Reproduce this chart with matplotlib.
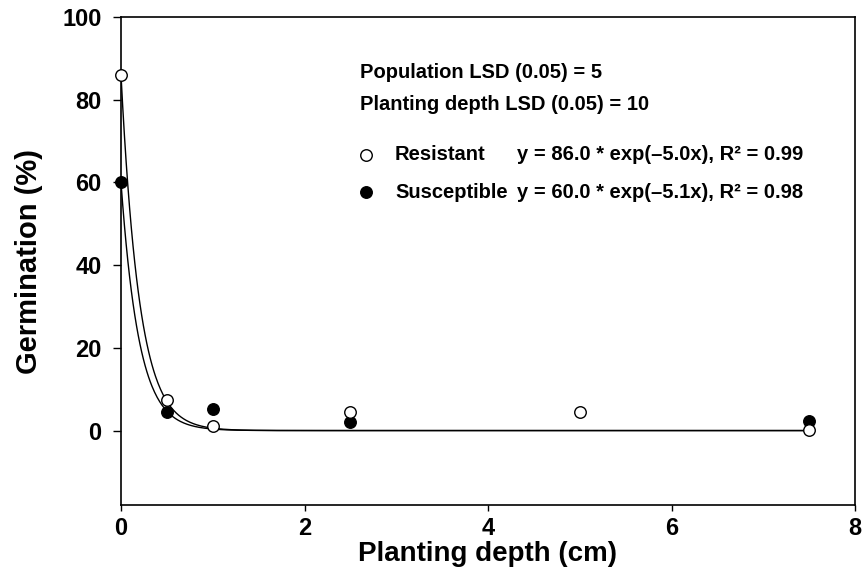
import numpy as np
import matplotlib
matplotlib.use("Agg")
import matplotlib.pyplot as plt

plt.rcParams['font.family'] = ['Liberation Sans', 'DejaVu Sans']
plt.rcParams['font.weight'] = 'bold'

# Data
res_x = [0, 0.5, 1, 2.5, 5, 7.5]
res_y = [86.0, 7.3, 1.2, 4.4, 4.4, 0.2]
sus_x = [0, 0.5, 1, 2.5, 7.5]
sus_y = [60.0, 4.4, 5.3, 2.0, 2.3]
# fitted model parameters y = a * exp(b x)
res_fit = (86.0, -5.0)
sus_fit = (60.0, -5.1)

xticks = [0, 2, 4, 6, 8]
yticks = [0, 20, 40, 60, 80, 100]

W, H = 867, 575
fig = plt.figure(figsize=(W/100, H/100), dpi=100)
ax = fig.add_axes([121/W, 1 - 505/H, (855-121)/W, (505-17)/H])

xs = np.linspace(0, 7.5, 800)
ax.plot(xs, res_fit[0]*np.exp(res_fit[1]*xs), color='black', lw=1.0, zorder=2)
ax.plot(xs, sus_fit[0]*np.exp(sus_fit[1]*xs), color='black', lw=1.0, zorder=2)

ms = 8.3
ax.plot(sus_x, sus_y, 'o', ms=ms, mfc='black', mec='black', mew=1.0, zorder=3, clip_on=False)
ax.plot(res_x, res_y, 'o', ms=ms, mfc='white', mec='black', mew=1.0, zorder=4, clip_on=False)

ax.set_xlim(0, 8)
ax.set_ylim(-18, 100)
ax.set_xticks(xticks)
ax.set_yticks(yticks)
ax.tick_params(direction='out', width=1.0, labelsize=17)
ax.tick_params(axis='y', length=6, pad=8)
ax.tick_params(axis='x', length=4.5, pad=4)
for s in ax.spines.values():
    s.set_linewidth(1.2)
for lbl in ax.get_xticklabels() + ax.get_yticklabels():
    lbl.set_fontweight('bold')

ax.set_xlabel('Planting depth (cm)', fontsize=20, fontweight='bold', labelpad=1)
ax.set_ylabel('Germination (%)', fontsize=21, fontweight='bold', labelpad=14)

def px(x, y):
    return fig.transFigure.inverted().transform((x, H - y))

tfs = 14.5
x0, y0 = px(360, 73)
fig.text(x0, y0, 'Population LSD (0.05) = 5', fontsize=tfs, fontweight='bold', va='center')
x0, y0 = px(360, 104)
fig.text(x0, y0, 'Planting depth LSD (0.05) = 10', fontsize=tfs, fontweight='bold', va='center')

for (yy, fc, name, eq) in [(155, 'white', 'Resistant', 'y = 86.0 * exp(\u20135.0x), R\u00b2 = 0.99'),
                           (192, 'black', 'Susceptible', 'y = 60.0 * exp(\u20135.1x), R\u00b2 = 0.98')]:
    fx, fy = px(366, yy)
    fig.lines.append(plt.Line2D([fx], [fy], marker='o', ms=ms, mfc=fc, mec='black', mew=1.0,
                                transform=fig.transFigure))
    tx, ty = px(395, yy)
    fig.text(tx, ty, name, fontsize=tfs, fontweight='bold', va='center')
    ex, ey = px(517, yy)
    fig.text(ex, ey, eq, fontsize=tfs, fontweight='bold', va='center')

fig.savefig('out.png', dpi=100)
